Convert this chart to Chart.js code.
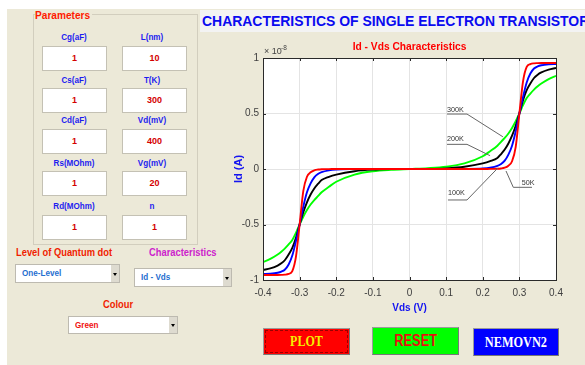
<!DOCTYPE html>
<html lang="en">
<head>
<meta charset="UTF-8">
<title>Characteristics of Single Electron Transistor</title>
<style>
  body { margin: 0; width: 585px; height: 365px; overflow: hidden; position: relative; background: #ece9d8; font-family: "Liberation Sans", Arial, sans-serif; }
  .abs { position: absolute; }
  .c { position: absolute; width: 120px; text-align: center; white-space: nowrap; font-weight: bold; line-height: 12px; transform: scaleX(.85); }
  .l { position: absolute; white-space: nowrap; font-weight: bold; line-height: 12px; transform: scaleX(.85); transform-origin: 0 50%; }
  .box { position: absolute; background: #fff; border: 1px solid #c4c1b4; width: 63px; height: 23px; line-height: 23px; text-align: center; color: #d40000; font-weight: bold; font-size: 9px; }
  .drop { position: absolute; background: #fff; border: 1px solid #bdbab0; font-weight: bold; font-size: 9px; }
  .drop span { position: absolute; left: 6px; top: 0; transform: scaleX(.9); transform-origin: 0 50%; }
  .drop i { position: absolute; right: 0; top: 0; bottom: 0; width: 8px; background: #dedbd0; }
  .drop i:after { content: ""; position: absolute; left: 2px; top: 45%; border-left: 2px solid transparent; border-right: 2px solid transparent; border-top: 3px solid #000; }
  .btn { position: absolute; border: 1px solid #9a9a9a; border-right-color: #777; border-bottom-color: #777; text-align: center; font-weight: bold; }
  .btn span { display: inline-block; }
  #chartBox { position: absolute; left: 215px; top: 35px; }
</style>
</head>
<body>
<div class="abs" style="left:0;top:0;width:585px;height:9px;background:#fff"></div>
<div class="abs" style="left:0;top:0;width:7px;height:365px;background:#fff"></div>
<div class="abs" style="left:200px;top:10px;width:385px;height:22px;background:#f3f3f3;overflow:hidden">
  <div class="l" style="left:2px;top:3px;font-size:15.5px;line-height:16px;color:#0a0af0;transform:scaleX(.9)">CHARACTERISTICS OF SINGLE ELECTRON TRANSISTOR</div>
</div>

<div class="abs" style="left:33px;top:14px;width:163px;height:229px;border:1px solid #d2cebe"></div>
<div class="l" style="left:35px;top:9px;font-size:11px;color:#ff1a00;background:#ece9d8;padding-right:2px;transform:scaleX(.92)">Parameters</div>
<div id="params"></div>

<div class="l" style="left:16px;top:246px;font-size:11px;color:#f01e00">Level of Quantum dot</div>
<div class="l" style="left:149px;top:246px;font-size:11px;color:#cc22cc">Characteristics</div>
<div class="drop" style="left:15px;top:264px;width:103px;height:17px;line-height:17px;color:#1f6fd0"><span>One-Level</span><i></i></div>
<div class="drop" style="left:134px;top:268px;width:96px;height:17px;line-height:17px;color:#1f6fd0"><span>Id - Vds</span><i></i></div>
<div class="c" style="left:58px;top:298px;font-size:11px;color:#f01e00">Colour</div>
<div class="drop" style="left:68px;top:316px;width:108px;height:16px;line-height:16px;color:#f01010"><span>Green</span><i></i></div>

<div class="btn" style="left:263px;top:328px;width:85px;height:25px;line-height:25px;background:#ff0000;color:#f4f000;font-family:'Liberation Serif',serif;font-size:15px;outline:1px dashed #900;outline-offset:-3px"><span style="transform:scaleX(.8)">PLOT</span></div>
<div class="btn" style="left:372px;top:327px;width:85px;height:26px;line-height:26px;background:#00ff00;color:#e81010;font-size:16px"><span style="transform:scaleX(.8)">RESET</span></div>
<div class="btn" style="left:473px;top:328px;width:84px;height:26px;line-height:26px;background:#0000ff;color:#fff;font-family:'Liberation Serif',serif;font-size:15px"><span style="transform:scaleX(.82)">NEMOVN2</span></div>

<div id="chartBox"><canvas id="ivChart" width="370" height="290"></canvas></div>

<script src="https://cdn.jsdelivr.net/npm/chart.js@4.4.1/dist/chart.umd.min.js"></script>
<script>
// Id values are in units of 1e-8 A (axis shows x10^-8)
const vds = [-0.4, -0.38, -0.36, -0.35, -0.34, -0.33, -0.32, -0.31, -0.3, -0.29, -0.28, -0.27, -0.26, -0.25, -0.24, -0.22, -0.2, -0.15, -0.1, -0.05, 0,
             0.05, 0.1, 0.15, 0.2, 0.22, 0.24, 0.25, 0.26, 0.27, 0.28, 0.29, 0.3, 0.31, 0.32, 0.33, 0.34, 0.35, 0.36, 0.38, 0.4];
const id50K = [-0.955, -0.955, -0.955, -0.954, -0.952, -0.945, -0.92, -0.79, -0.5, -0.2, -0.07, -0.03, -0.012, -0.005, -0.002, -0.001, 0, 0, 0, 0, 0,
               0, 0, 0, 0, 0.001, 0.002, 0.005, 0.012, 0.03, 0.07, 0.2, 0.5, 0.79, 0.92, 0.945, 0.952, 0.954, 0.955, 0.955, 0.955];
const id100K = [-0.945, -0.943, -0.935, -0.925, -0.905, -0.86, -0.78, -0.65, -0.5, -0.34, -0.21, -0.13, -0.075, -0.045, -0.028, -0.012, -0.005, -0.001, 0, 0, 0,
                0, 0, 0.001, 0.005, 0.012, 0.028, 0.045, 0.075, 0.13, 0.21, 0.34, 0.5, 0.65, 0.78, 0.86, 0.905, 0.925, 0.935, 0.943, 0.945];
const id200K = [-0.91, -0.895, -0.87, -0.85, -0.82, -0.77, -0.71, -0.62, -0.5, -0.39, -0.3, -0.23, -0.175, -0.135, -0.1, -0.07, -0.05, -0.02, -0.006, -0.001, 0,
                0.001, 0.006, 0.02, 0.05, 0.07, 0.1, 0.135, 0.175, 0.23, 0.3, 0.39, 0.5, 0.62, 0.71, 0.77, 0.82, 0.85, 0.87, 0.895, 0.91];
const id300K = [-0.84, -0.81, -0.77, -0.745, -0.715, -0.68, -0.64, -0.575, -0.5, -0.43, -0.37, -0.32, -0.28, -0.245, -0.21, -0.16, -0.115, -0.05, -0.02, -0.007, 0,
                0.007, 0.02, 0.05, 0.115, 0.16, 0.21, 0.245, 0.28, 0.32, 0.37, 0.43, 0.5, 0.575, 0.64, 0.68, 0.715, 0.745, 0.77, 0.81, 0.84];
const temps = ['50K', '100K', '200K', '300K'];
const colors = ['#ff0000', '#0000ff', '#000000', '#00ff00'];

// GUI parameter fields
const params = [['Cg(aF)', '1'], ['L(nm)', '10'], ['Cs(aF)', '1'], ['T(K)', '300'], ['Cd(aF)', '1'], ['Vd(mV)', '400'],
                ['Rs(MOhm)', '1'], ['Vg(mV)', '20'], ['Rd(MOhm)', '1'], ['n', '1']];
const labelY = [37, 80, 120, 163, 206];
const boxTop = [46, 88, 129, 171, 215];
const holder = document.getElementById('params');
params.forEach((p, i) => {
  const row = Math.floor(i / 2), col = i % 2;
  const lab = document.createElement('div');
  lab.className = 'c';
  lab.style.cssText = `left:${(col ? 152 : 74) - 60}px;top:${labelY[row] - 6}px;font-size:9.5px;color:#1c1cf0`;
  lab.textContent = p[0];
  holder.appendChild(lab);
  const box = document.createElement('div');
  box.className = 'box';
  box.style.left = (col ? 122 : 42) + 'px';
  box.style.top = boxTop[row] + 'px';
  box.textContent = p[1];
  holder.appendChild(box);
});

const notes = [
  {text: '300K', at: [0.1024, 0.518], path: [[0.1024, 0.495], [0.157, 0.495], [0.255, 0.29]]},
  {text: '200K', at: [0.1024, 0.248], path: [[0.1024, 0.222], [0.157, 0.222], [0.22, 0.12]]},
  {text: '100K', at: [0.105, -0.234], path: [[0.105, -0.279], [0.157, -0.279], [0.2416, 0.01]]},
  {text: '50K', at: [0.3064, -0.144], path: [[0.3345, -0.165], [0.2834, -0.165], [0.2635, -0.018]]}
];

const frame = {
  id: 'frame',
  beforeDraw(chart) {
    const {ctx, chartArea: a} = chart;
    ctx.save();
    ctx.fillStyle = '#fff';
    ctx.fillRect(a.left, a.top, a.right - a.left, a.bottom - a.top);
    ctx.restore();
  },
  afterDatasetsDraw(chart) {
    const {ctx, chartArea: a, scales: {x, y}} = chart;
    ctx.save();
    ctx.strokeStyle = '#2a2a2a';
    ctx.lineWidth = 1;
    ctx.strokeRect(a.left + 0.5, a.top + 0.5, a.right - a.left, a.bottom - a.top);
    ctx.beginPath();
    x.ticks.forEach(t => {
      const px = Math.round(x.getPixelForValue(t.value)) + 0.5;
      ctx.moveTo(px, a.bottom); ctx.lineTo(px, a.bottom - 3);
      ctx.moveTo(px, a.top); ctx.lineTo(px, a.top + 3);
    });
    y.ticks.forEach(t => {
      const py = Math.round(y.getPixelForValue(t.value)) + 0.5;
      ctx.moveTo(a.left, py); ctx.lineTo(a.left + 3, py);
      ctx.moveTo(a.right, py); ctx.lineTo(a.right - 3, py);
    });
    ctx.stroke();

    // temperature labels with leader lines
    ctx.strokeStyle = '#666';
    ctx.fillStyle = '#333';
    ctx.font = '8px "Liberation Sans", Arial, sans-serif';
    notes.forEach(n => {
      ctx.beginPath();
      n.path.forEach((p, i) => {
        const px = x.getPixelForValue(p[0]), py = y.getPixelForValue(p[1]);
        if (i) ctx.lineTo(px, py); else ctx.moveTo(px, py);
      });
      ctx.stroke();
      ctx.save();
      ctx.translate(x.getPixelForValue(n.at[0]), y.getPixelForValue(n.at[1]));
      ctx.scale(0.9, 1);
      ctx.fillText(n.text, 0, 0);
      ctx.restore();
    });

    // exponent and title
    ctx.fillStyle = '#444';
    ctx.font = '9px "Liberation Sans", Arial, sans-serif';
    ctx.fillText('\u00d7 10', a.left + 1, a.top - 4);
    ctx.font = '6.5px "Liberation Sans", Arial, sans-serif';
    ctx.fillText('-8', a.left + 18, a.top - 8);
    ctx.fillStyle = '#ff0000';
    ctx.font = 'bold 11px "Liberation Sans", Arial, sans-serif';
    ctx.textAlign = 'center';
    ctx.translate((a.left + a.right) / 2, a.top - 8);
    ctx.scale(0.93, 1);
    ctx.fillText('Id - Vds Characteristics', 0, 0);
    ctx.restore();
  }
};

const fmt = v => Number(v.toFixed(2)).toString();

new Chart(document.getElementById('ivChart'), {
  type: 'line',
  data: {
    datasets: temps.map((t, i) => ({
      label: t,
      data: vds.map((v, k) => ({x: v, y: [id50K, id100K, id200K, id300K][i][k]})),
      borderColor: colors[i],
      borderWidth: 1.9,
      pointRadius: 0,
      cubicInterpolationMode: 'monotone',
      fill: false
    }))
  },
  options: {
    responsive: false,
    animation: false,
    layout: {padding: {top: 23, right: 29, left: 0, bottom: 0}},
    plugins: {legend: {display: false}, tooltip: {enabled: false}},
    scales: {
      x: {
        type: 'linear', min: -0.4, max: 0.4,
        afterFit: s => { s.height = 45; },
        ticks: {stepSize: 0.1, padding: 7, color: '#404040', font: {size: 10, family: 'Liberation Sans'}, callback: fmt},
        grid: {color: '#e4e4e4', drawTicks: false},
        border: {display: false},
        title: {display: true, text: 'Vds (V)', color: '#1414f0', font: {size: 10, weight: 'bold', family: 'Liberation Sans'}, padding: {top: 0, bottom: 11}}
      },
      y: {
        type: 'linear', min: -1, max: 1,
        afterFit: s => { s.width = 48; },
        ticks: {stepSize: 0.5, padding: 4, color: '#404040', font: {size: 10, family: 'Liberation Sans'}, callback: fmt},
        grid: {color: '#e4e4e4', drawTicks: false},
        border: {display: false},
        title: {display: true, text: 'Id (A)', color: '#1414f0', font: {size: 11, weight: 'bold', family: 'Liberation Sans'}, padding: {top: 17, bottom: 0}}
      }
    }
  },
  plugins: [frame]
});
</script>
</body>
</html>
